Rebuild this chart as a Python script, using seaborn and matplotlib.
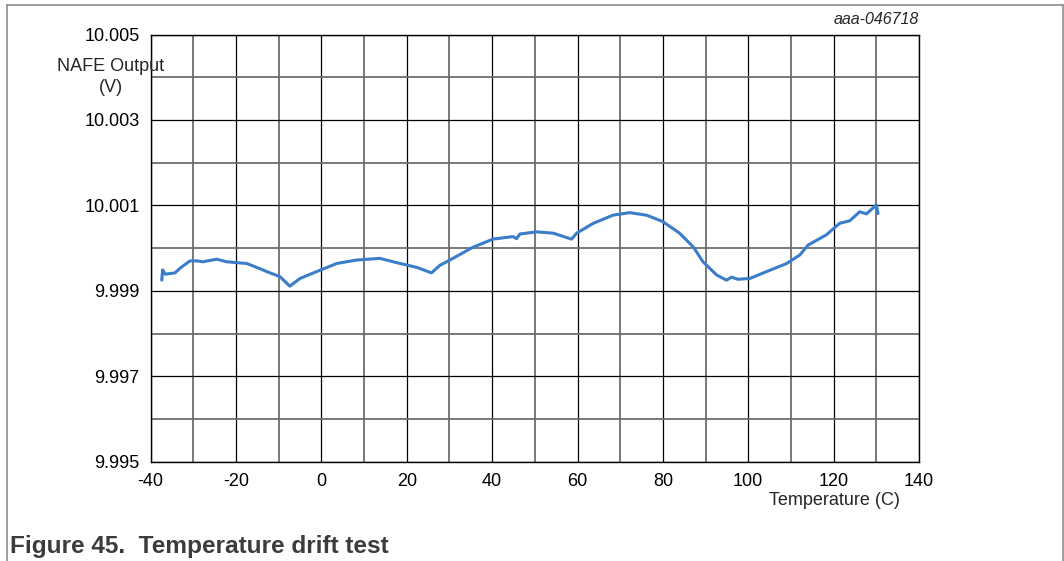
import pandas as pd
import seaborn as sns
import matplotlib.pyplot as plt
from matplotlib.lines import Line2D
from matplotlib.ticker import MultipleLocator

# Valores
temp_c = [-37.4, -37.2, -36.6, -34.3, -33.1, -30.8, -29.2, -27.8, -24.5, -22.2,
          -19.9, -17.5, -15.2, -12.8, -9.7, -7.4, -5.0, -1.1, 3.6, 8.2,
          13.7, 17.6, 22.3, 25.8, 27.8, 30.1, 35.5, 40.2, 44.9, 45.7,
          46.5, 50.4, 54.3, 58.6, 59.8, 63.7, 68.3, 72.2, 76.2, 80.0,
          83.9, 87.1, 89.4, 92.6, 94.9, 96.1, 97.6, 100.4, 104.3, 109.0,
          112.1, 114.0, 118.3, 121.4, 123.8, 126.1, 127.7, 130.0, 130.4]
nafe_v = [9.99925, 9.99949, 9.99939, 9.99942, 9.99953, 9.99970, 9.99970, 9.99968, 9.99974, 9.99968,
          9.99966, 9.99964, 9.99955, 9.99945, 9.99933, 9.99911, 9.99929, 9.99945, 9.99964, 9.99972,
          9.99976, 9.99966, 9.99955, 9.99942, 9.99960, 9.99972, 10.00002, 10.00021, 10.00027, 10.00022,
          10.00033, 10.00038, 10.00035, 10.00021, 10.00035, 10.00058, 10.00077, 10.00083, 10.00077, 10.00062,
          10.00035, 10.00003, 9.99968, 9.99937, 9.99925, 9.99932, 9.99927, 9.99929, 9.99945, 9.99964,
          9.99984, 10.00007, 10.00031, 10.00058, 10.00064, 10.00085, 10.0008, 10.00101, 10.00081]

x_ticks = [-40, -20, 0, 20, 40, 60, 80, 100, 120, 140]
y_ticks = [9.995, 9.997, 9.999, 10.001, 10.003, 10.005]
y_minor = [9.996, 9.998, 10.000, 10.002, 10.004]

df = pd.DataFrame({"temp": temp_c, "v": nafe_v})

sns.set_style("white")
plt.rcParams["font.family"] = ["Liberation Sans", "DejaVu Sans"]

fig = plt.figure(figsize=(10.64, 5.61), dpi=100)
ax = fig.add_axes([0.1416, 0.1770, 0.7221, 0.7615])

sns.lineplot(data=df, x="temp", y="v", ax=ax, color="#3a7dc9", linewidth=2.2,
             sort=False, estimator=None)

ax.set_xlim(-40, 140)
ax.set_ylim(9.995, 10.005)
ax.set_xticks(x_ticks)
ax.set_xticklabels([str(t) for t in x_ticks])
ax.xaxis.set_minor_locator(MultipleLocator(10))
ax.set_yticks(y_ticks)
ax.set_yticklabels([f"{t:.3f}" for t in y_ticks])
ax.set_yticks(y_minor, minor=True)

ax.grid(True, which="major", color="black", linewidth=0.9)
ax.grid(True, which="minor", color="#6e6e6e", linewidth=1.3)
ax.set_axisbelow(True)
ax.tick_params(which="both", length=0, labelsize=13, colors="black")
ax.tick_params(axis="x", pad=8)
ax.tick_params(axis="y", pad=8)
for s in ax.spines.values():
    s.set_visible(True)
    s.set_color("black")
    s.set_linewidth(1.0)

ax.set_xlabel("")
ax.set_ylabel("")
fig.text(111 / 1064, 1 - 77 / 561, "NAFE Output\n(V)", ha="center", va="center",
         fontsize=13, linespacing=1.3)
fig.text(834 / 1064, 1 - 500.5 / 561, "Temperature (C)", ha="center", va="center", fontsize=13)
fig.text(919 / 1064, 1 - 20 / 561, "aaa-046718", ha="right", va="center",
         fontsize=11.5, style="italic")
fig.text(10 / 1064, 1 - 547 / 561, "Figure 45.  Temperature drift test", ha="left", va="center",
         fontsize=17.6, fontweight="bold", color="#3c3c3c")

# Moldura externa (sem linha inferior)
bx0, bx1, by1 = 7 / 1064, 1062.5 / 1064, 1 - 5 / 561
for xs, ys in [([bx0, bx0], [0, by1]), ([bx0, bx1], [by1, by1]), ([bx1, bx1], [by1, 0])]:
    fig.add_artist(Line2D(xs, ys, transform=fig.transFigure, color="#8c8c8c", linewidth=1.2))

fig.savefig("out.png", dpi=100)
